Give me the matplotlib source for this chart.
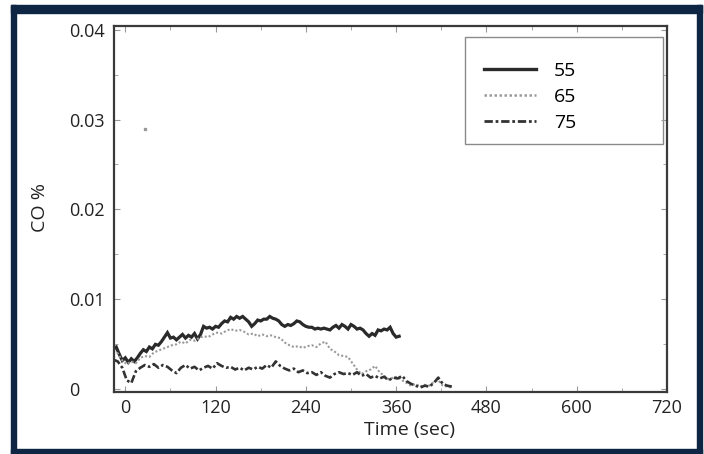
import numpy as np
import matplotlib
matplotlib.use("Agg")
import matplotlib.pyplot as plt
from matplotlib.patches import Rectangle
from matplotlib.lines import Line2D

plt.rcParams['font.family'] = ['Open Sans', 'DejaVu Sans']

# CO readings (%) sampled over time (sec), one series per setting
co_55 = [.0045, .0047, .0039, .0032, .0035, .0030, .0034, .0031, .0035, .0040,
         .0044, .0042, .0047, .0045, .0050, .0049, .0053, .0058, .0063, .0057,
         .0058, .0055, .0058, .0061, .0057, .0060, .0058, .0062, .0056, .0061,
         .0070, .0068, .0069, .0067, .0070, .0069, .0073, .0076, .0075, .0080,
         .0078, .0081, .0079, .0081, .0078, .0075, .0070, .0073, .0077, .0076,
         .0078, .0078, .0081, .0079, .0078, .0076, .0072, .0070, .0072, .0071,
         .0073, .0076, .0075, .0072, .0070, .0069, .0069, .0067, .0068, .0067,
         .0068, .0067, .0066, .0069, .0071, .0068, .0072, .0070, .0067, .0072,
         .0070, .0067, .0068, .0066, .0062, .0059, .0062, .0060, .0066, .0065,
         .0067, .0066, .0069, .0062, .0058, .0059]
co_65 = [.0043, .0040, .0032, .0028, .0031, .0029, .0035, .0037, .0036, .0041,
         .0043, .0045, .0047, .0049, .0050, .0053, .0051, .0055, .0054, .0057,
         .0059, .0058, .0061, .0063, .0062, .0065, .0067, .0065, .0066, .0064,
         .0061, .0062, .0059, .0061, .0059, .0060, .0058, .0057, .0052, .0049,
         .0047, .0048, .0046, .0048, .0049, .0047, .0051, .0053, .0045, .0042,
         .0038, .0037, .0036, .0029, .0022, .0017, .0020, .0022, .0026, .0019,
         .0015, .0011, .0013, .0014, .0010, .0007, .0004, .0006, .0003, .0005,
         .0004, .0008, .0010, .0004, .0003, .0002]
co_75 = [.0033, .0031, .0024, .0010, .0007, .0020, .0024, .0027, .0025, .0028,
         .0024, .0027, .0025, .0021, .0018, .0024, .0027, .0023, .0025, .0021,
         .0024, .0026, .0023, .0029, .0026, .0024, .0025, .0022, .0024, .0021,
         .0024, .0022, .0025, .0023, .0027, .0024, .0031, .0026, .0023, .0021,
         .0023, .0019, .0021, .0018, .0019, .0016, .0019, .0015, .0013, .0017,
         .0019, .0017, .0018, .0016, .0019, .0015, .0017, .0013, .0015, .0012,
         .0014, .0010, .0013, .0012, .0015, .0009, .0006, .0004, .0002, .0004,
         .0003, .0007, .0013, .0006, .0004, .0003]

t_55 = np.linspace(-16, 364, len(co_55))
t_65 = np.linspace(-16, 434, len(co_65))
t_75 = np.linspace(-16, 434, len(co_75))

series_labels = ['55', '65', '75']
x_ticks = [0, 120, 240, 360, 480, 600, 720]
y_ticks = [0, 0.01, 0.02, 0.03, 0.04]
y_tick_labels = ['0', '0.01', '0.02', '0.03', '0.04']

W, H = 704, 454
fig = plt.figure(figsize=(W / 100, H / 100), dpi=100)
ax = fig.add_axes([114 / W, 1 - 392 / H, 553 / W, 366 / H])

ax.plot(t_55, co_55, color='#2a2a2a', lw=2.3, solid_joinstyle='miter')
ax.plot(t_65, co_65, color='#9a9a9a', lw=1.5, linestyle=(0, (1, 1)))
ax.plot(t_75, co_75, color='#333333', lw=1.9, linestyle=(0, (3, 1, 1, 1)))
# stray speck on the original trace
ax.plot([26], [0.029], marker='s', ms=1.5, color='#999999', ls='none')

ax.set_xlim(-15, 712)
ax.set_ylim(-0.0003, 0.0404)
ax.set_xticks(x_ticks)
ax.set_xticks(np.arange(60, 720, 120), minor=True)
ax.set_yticks(y_ticks)
ax.set_yticklabels(y_tick_labels)
ax.set_yticks([0.005, 0.015, 0.025, 0.035], minor=True)
ax.tick_params(which='both', direction='in', top=True, right=True,
               color='#999999', labelsize=13, labelcolor='#222222')
ax.tick_params(which='major', length=4)
ax.tick_params(which='minor', length=3)
ax.tick_params(axis='x', pad=5)
ax.tick_params(axis='y', pad=32)
plt.setp(ax.get_yticklabels(), ha='left')

for s in ax.spines.values():
    s.set_color('#3a3a3a')
    s.set_linewidth(1.6)

ax.set_xlabel('Time (sec)', fontsize=14, color='#222222')
ax.set_ylabel('CO %', fontsize=14, color='#222222')
ax.xaxis.set_label_coords(0.535, -0.08)
ax.yaxis.set_label_coords(-0.118, 0.505)

# legend box drawn by hand so it spans the upper right corner
ax.add_patch(Rectangle((0.635, 0.678), 0.358, 0.292, transform=ax.transAxes,
                       fill=False, edgecolor='#8a8a8a', lw=1.0))
handles = [Line2D([], [], color='#2a2a2a', lw=2.4),
           Line2D([], [], color='#9a9a9a', lw=1.8, linestyle=(0, (1, 1))),
           Line2D([], [], color='#333333', lw=2.0, linestyle=(0, (3, 1, 1, 1)))]
ax.legend(handles, series_labels, loc='upper left', bbox_to_anchor=(0.644, 0.94),
          frameon=False, fontsize=14, handlelength=2.7, handletextpad=0.9,
          labelspacing=0.42, borderpad=0.2)

# navy frame around the figure
navy = '#0f2544'
for x0, y0, w, h in [(11, 5, 5, 449), (697, 5, 5, 449), (11, 5, 691, 8), (11, 449, 691, 5)]:
    fig.patches.append(Rectangle((x0 / W, 1 - (y0 + h) / H), w / W, h / H,
                                 transform=fig.transFigure, color=navy, zorder=10))

fig.savefig('out.png', dpi=100)
